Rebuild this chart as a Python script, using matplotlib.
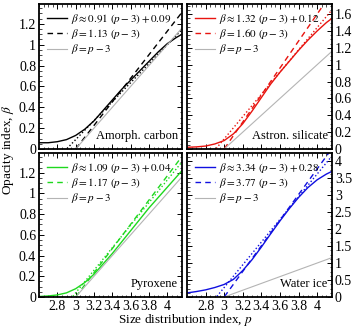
import numpy as np
import matplotlib
matplotlib.use("Agg")
import matplotlib.pyplot as plt
from matplotlib.ticker import AutoMinorLocator, FormatStrFormatter

plt.rcParams["font.family"] = ["Liberation Serif", "DejaVu Serif"]
plt.rcParams["mathtext.fontset"] = "stix"

p_grid = [2.6, 2.7, 2.8, 2.9, 3.0, 3.1, 3.2, 3.3, 3.4, 3.5, 3.6, 3.7, 3.8, 3.9, 4.0, 4.1, 4.16]

beta_carbon = [0.06, 0.06, 0.07, 0.09, 0.13, 0.19, 0.27, 0.37, 0.47, 0.57, 0.66, 0.75, 0.84, 0.93, 1.01, 1.07, 1.10]
beta_silicate = [0.02, 0.025, 0.035, 0.06, 0.10, 0.18, 0.30, 0.45, 0.61, 0.77, 0.91, 1.04, 1.17, 1.29, 1.40, 1.50, 1.55]
beta_pyroxene = [0.005, 0.01, 0.02, 0.04, 0.08, 0.14, 0.22, 0.32, 0.42, 0.53, 0.64, 0.75, 0.86, 0.96, 1.06, 1.16, 1.22]
beta_ice = [0.12, 0.16, 0.21, 0.28, 0.37, 0.52, 0.78, 1.10, 1.47, 1.86, 2.24, 2.60, 2.93, 3.22, 3.45, 3.62, 3.70]

materials = ["Amorph. carbon", "Astron. silicate", "Pyroxene", "Water ice"]
colors = ["black", "#e8140f", "#1ed81e", "#1010e0"]
fit_slope = [0.91, 1.32, 1.09, 3.34]
fit_offset = [0.09, 0.12, 0.04, 0.28]
ref_slope = [1.13, 1.60, 1.17, 3.77]
curves = [beta_carbon, beta_silicate, beta_pyroxene, beta_ice]

y_max = [1.39, 1.72, 1.39, 4.24]
y_ticks = [
    [0, 0.2, 0.4, 0.6, 0.8, 1, 1.2],
    [0, 0.2, 0.4, 0.6, 0.8, 1, 1.2, 1.4, 1.6],
    [0, 0.2, 0.4, 0.6, 0.8, 1, 1.2],
    [0, 0.5, 1, 1.5, 2, 2.5, 3, 3.5, 4],
]
x_ticks = [2.8, 3, 3.2, 3.4, 3.6, 3.8, 4]
x_lim = (2.6, 4.16)

W, H = 354, 331
fig = plt.figure(figsize=(W / 100, H / 100), dpi=100)

# panel boxes in pixels: left, top, right, bottom
boxes = [(39, 4, 182, 149), (187, 4, 332, 149), (39, 153, 182, 297), (187, 153, 332, 297)]

p_line = np.linspace(2.6, 4.2, 200)
for i, (l, t, r, b) in enumerate(boxes):
    ax = fig.add_axes([l / W, 1 - b / H, (r - l) / W, (b - t) / H])
    c = colors[i]

    ax.plot(p_grid, curves[i], color=c, lw=1.0,
            label=rf"$\beta \approx {fit_slope[i]:.2f}\ (p-3) + {fit_offset[i]:.2f}$")
    fit = fit_slope[i] * (p_line - 3) + fit_offset[i]
    m = fit >= 0
    ax.plot(p_line[m], fit[m], color=c, lw=1.0, ls=(0, (1, 1.6)))
    ref = ref_slope[i] * (p_line - 3)
    m = ref >= 0
    ax.plot(p_line[m], ref[m], color=c, lw=1.0, ls=(0, (4, 3)),
            label=rf"$\beta = {ref_slope[i]:.2f}\ (p-3)$")
    unit = p_line - 3
    m = unit >= 0
    ax.plot(p_line[m], unit[m], color="#b4b4b4", lw=0.8, label=r"$\beta = p - 3$")

    ax.set_xlim(*x_lim)
    ax.set_ylim(0, y_max[i])
    ax.set_xticks(x_ticks)
    ax.set_yticks(y_ticks[i])
    ax.xaxis.set_minor_locator(AutoMinorLocator(4))
    ax.yaxis.set_minor_locator(AutoMinorLocator(4))
    ax.xaxis.set_major_formatter(FormatStrFormatter("%g"))
    ax.yaxis.set_major_formatter(FormatStrFormatter("%g"))
    ax.tick_params(which="both", direction="in", top=True, right=True,
                   labelsize=10, pad=2)
    ax.tick_params(which="major", length=3.5, width=0.7)
    ax.tick_params(which="minor", length=1.8, width=0.5)
    for s in ax.spines.values():
        s.set_linewidth(1.3)

    if i < 2:
        ax.tick_params(labelbottom=False)
    if i % 2 == 1:
        ax.tick_params(labelleft=False, labelright=True)

    ax.legend(loc="upper left", frameon=False, fontsize=8, handlelength=1.8,
              labelspacing=0.12, borderaxespad=0.3, handletextpad=0.4)
    ax.text(0.97, 0.05, materials[i], transform=ax.transAxes, ha="right",
            va="bottom", fontsize=9)

fig.text(8 / W, 1 - 150 / H, r"Opacity index, $\beta$", rotation=90,
         ha="center", va="center", fontsize=9.5)
fig.text(185 / W, 1 - 320 / H, r"Size distribution index, $p$",
         ha="center", va="center", fontsize=9.5)

fig.savefig("out.png", dpi=100)
